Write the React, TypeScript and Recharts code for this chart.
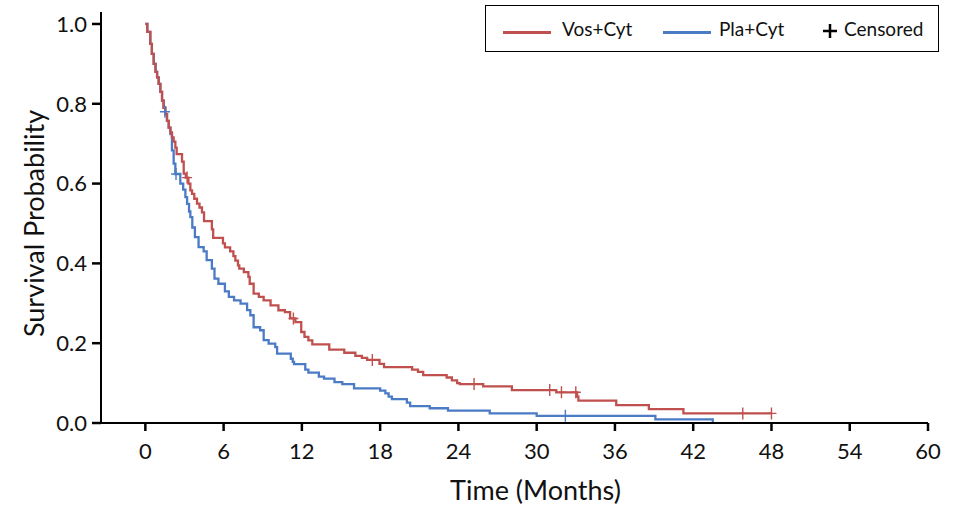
import { ComposedChart, Line, Scatter, XAxis, YAxis } from 'recharts'

// Kaplan-Meier steps: time in months, survival after the event at that time
const vosTimes = [
  0, 0.15, 0.38, 0.5, 0.64, 0.78, 0.9, 1.02, 1.15, 1.28, 1.4, 1.53, 1.66, 1.79, 1.92, 2.04, 2.17, 2.3, 2.4, 2.81,
  2.94, 3.1, 3.3, 3.45, 3.58, 3.75, 3.96, 4.15, 4.34, 4.5, 5.1, 5.2, 5.95, 6.1, 6.5, 6.75, 6.9, 7.1, 7.2, 7.55,
  7.9, 8.0, 8.3, 8.7, 9.07, 9.6, 10.2, 10.7, 11.1, 11.5, 11.95, 12.2, 12.5, 12.8, 14.1, 15.25, 16.1, 16.6, 17.0,
  17.95, 18.3, 20.45, 20.9, 21.3, 23.1, 23.5, 23.9, 24.1, 25.9, 28.1, 31.5, 33.1, 33.2, 36.1, 38.6, 41.25, 48.0,
]
const vosSurv = [
  1.0, 0.98, 0.95, 0.925, 0.9, 0.88, 0.866, 0.85, 0.83, 0.808, 0.79, 0.774, 0.757, 0.74, 0.728, 0.716, 0.705, 0.69,
  0.674, 0.655, 0.625, 0.615, 0.6, 0.583, 0.574, 0.562, 0.55, 0.54, 0.528, 0.506, 0.485, 0.464, 0.45, 0.44, 0.43,
  0.418, 0.407, 0.395, 0.387, 0.378, 0.366, 0.349, 0.324, 0.316, 0.3075, 0.295, 0.2825, 0.278, 0.262, 0.253, 0.228,
  0.216, 0.207, 0.197, 0.184, 0.176, 0.168, 0.163, 0.158, 0.148, 0.14, 0.134, 0.128, 0.12, 0.114, 0.107, 0.1,
  0.0975, 0.092, 0.0825, 0.077, 0.066, 0.056, 0.045, 0.035, 0.024, 0.024,
]
const plaTimes = [
  0, 0.15, 0.38, 0.5, 0.64, 0.78, 0.9, 1.02, 1.15, 1.28, 1.4, 1.53, 1.66, 1.79, 1.92, 2.04, 2.17, 2.3, 2.68, 2.9,
  3.07, 3.2, 3.35, 3.45, 3.6, 3.8, 4.08, 4.47, 4.7, 5.1, 5.3, 5.6, 6.1, 6.4, 6.8, 7.3, 7.8, 8.05, 8.3, 8.8, 9.07,
  9.45, 9.96, 10.1, 11.15, 11.3, 11.4, 12.26, 12.5, 13.3, 13.7, 14.5, 15.1, 16.0, 18.0, 18.4, 18.65, 18.9, 20.05,
  20.3, 21.8, 23.2, 26.4, 30.0, 39.1, 43.5,
]
const plaSurv = [
  1.0, 0.98, 0.95, 0.925, 0.9, 0.88, 0.866, 0.85, 0.83, 0.808, 0.79, 0.774, 0.757, 0.74, 0.724, 0.683, 0.65, 0.624,
  0.6, 0.585, 0.566, 0.549, 0.53, 0.516, 0.49, 0.466, 0.441, 0.43, 0.408, 0.387, 0.362, 0.349, 0.33, 0.316, 0.3075,
  0.299, 0.283, 0.27, 0.24, 0.2325, 0.2075, 0.199, 0.19, 0.174, 0.161, 0.153, 0.1475, 0.134, 0.126, 0.116, 0.111,
  0.1025, 0.0975, 0.087, 0.081, 0.074, 0.066, 0.06, 0.051, 0.0425, 0.037, 0.031, 0.024, 0.018, 0.009, 0,
]

// censored observations
const vosCensorTimes = [3.2, 11.35, 17.4, 25.2, 31.0, 31.9, 33.0, 45.8, 48.0]
const vosCensorSurv = [0.615, 0.262, 0.158, 0.0975, 0.0825, 0.077, 0.077, 0.024, 0.024]
const plaCensorTimes = [1.5, 2.35, 32.2]
const plaCensorSurv = [0.78, 0.624, 0.018]

const xTicks = [0, 6, 12, 18, 24, 30, 36, 42, 48, 54, 60]
const yTicks = [0, 0.2, 0.4, 0.6, 0.8, 1.0]

const RED = '#C0504D'
const BLUE = '#4A7BC4'
const FONT = 'Lato, sans-serif'

const zip = (ts: number[], vs: number[]) => ts.map((t, i) => ({ t, v: vs[i] }))

const vosData = zip(vosTimes, vosSurv)
const plaData = zip(plaTimes, plaSurv)
const vosCensored = zip(vosCensorTimes, vosCensorSurv)
const plaCensored = zip(plaCensorTimes, plaCensorSurv)

function plus(color: string) {
  return (props: any) => {
    const { cx, cy } = props
    return <path d={`M${cx - 5},${cy}h10M${cx},${cy - 6}v12`} stroke={color} strokeWidth={1.4} fill="none" />
  }
}

function LegendBox() {
  const text = { position: 'absolute' as const, top: 12, fontSize: 19, lineHeight: '22px', color: '#111' }
  const swatch = { position: 'absolute' as const, top: 25, height: 3, width: 48 }
  return (
    <div
      style={{
        position: 'absolute',
        left: 485,
        top: 5,
        width: 452,
        height: 45,
        border: '1.5px solid #000',
        fontFamily: FONT,
        background: '#fff',
      }}
    >
      <div style={{ ...swatch, left: 17, background: RED }} />
      <span style={{ ...text, left: 76 }}>Vos+Cyt</span>
      <div style={{ ...swatch, left: 177, background: BLUE }} />
      <span style={{ ...text, left: 233 }}>Pla+Cyt</span>
      <svg style={{ position: 'absolute', left: 336, top: 17 }} width={16} height={16}>
        <path d="M1,8h14M8,1v14" stroke="#000" strokeWidth={2.5} />
      </svg>
      <span style={{ ...text, left: 358 }}>Censored</span>
    </div>
  )
}

export default function App() {
  return (
    <div style={{ position: 'absolute', left: 0, top: 0, width: 954, height: 506, background: '#fff', fontFamily: FONT }}>
      <ComposedChart width={954} height={506} margin={{ top: 12, right: 26, left: 10, bottom: 0 }}>
        <XAxis
          dataKey="t"
          type="number"
          domain={[-3.4, 60]}
          ticks={xTicks}
          allowDataOverflow
          height={83}
          tickSize={8}
          tickMargin={12}
          axisLine={{ stroke: '#000', strokeWidth: 2 }}
          tickLine={{ stroke: '#000', strokeWidth: 2.5 }}
          tick={{ fill: '#111', fontSize: 22, fontFamily: FONT }}
          label={{ value: 'Time (Months)', position: 'center', dx: 21, dy: 26, fontSize: 27, fill: '#111', fontFamily: FONT }}
        />
        <YAxis
          dataKey="v"
          type="number"
          domain={[0, 1.03]}
          ticks={yTicks}
          allowDataOverflow
          width={91}
          tickSize={9}
          tickMargin={5}
          tickFormatter={(v: number) => v.toFixed(1)}
          axisLine={{ stroke: '#000', strokeWidth: 2 }}
          tickLine={{ stroke: '#000', strokeWidth: 2.5 }}
          tick={{ fill: '#111', fontSize: 22, fontFamily: FONT }}
          label={{ value: 'Survival Probability', angle: -90, position: 'center', dx: -21, dy: 6, fontSize: 27, fill: '#111', fontFamily: FONT }}
        />
        <Line data={plaData} dataKey="v" type="stepAfter" stroke={BLUE} strokeWidth={2.3} dot={false} isAnimationActive={false} />
        <Line data={vosData} dataKey="v" type="stepAfter" stroke={RED} strokeWidth={2.3} dot={false} isAnimationActive={false} />
        <Scatter data={plaCensored} dataKey="v" shape={plus(BLUE)} isAnimationActive={false} />
        <Scatter data={vosCensored} dataKey="v" shape={plus(RED)} isAnimationActive={false} />
      </ComposedChart>
      <LegendBox />
    </div>
  )
}
